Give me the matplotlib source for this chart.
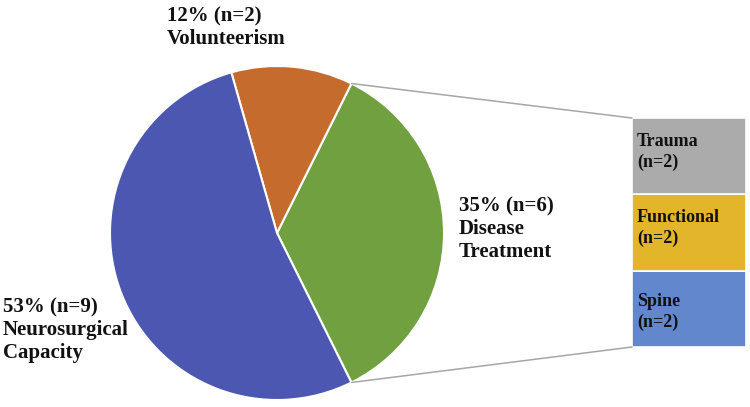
import numpy as np
import matplotlib.pyplot as plt
from matplotlib.patches import ConnectionPatch

# main pie
pie_labels = ['Disease Treatment', 'Volunteerism', 'Neurosurgical Capacity']
pie_counts = [6, 2, 9]
pie_colors = ['#70A03F', '#C56B2D', '#4B57B0']

# breakdown of disease treatment
bar_labels = ['Spine', 'Functional', 'Trauma']
bar_counts = [2, 2, 2]
bar_colors = ['#6287CC', '#E3B52B', '#ABABAB']

W, H = 750, 407
fig = plt.figure(figsize=(W / 100, H / 100), dpi=100)

def fx(px):
    return px / W

def fy(py):
    return 1 - py / H

# pie axes: circle spans x 110..444, y 66..400 in pixels
ax_pie = fig.add_axes([fx(110), fy(400), 334 / W, 334 / H])
start = -pie_counts[0] / sum(pie_counts) * 360 / 2
wedges, _ = ax_pie.pie(pie_counts, colors=pie_colors, startangle=start,
                       counterclock=True, radius=1,
                       wedgeprops=dict(edgecolor='white', linewidth=1.5))
ax_pie.set_xlim(-1, 1)
ax_pie.set_ylim(-1, 1)
ax_pie.set_aspect('equal')
ax_pie.axis('off')

# stacked bar axes
ax_bar = fig.add_axes([fx(632), fy(347), 114 / W, 229 / H])
bottom = 0
for lab, cnt, col in zip(bar_labels, bar_counts, bar_colors):
    ax_bar.bar(0, cnt, bottom=bottom, width=1, color=col,
               edgecolor='white', linewidth=1.2)
    bottom += cnt
ax_bar.set_xlim(-0.5, 0.5)
ax_bar.set_ylim(0, sum(bar_counts))
ax_bar.axis('off')

# connector lines
w = wedges[0]
for ang, yb in [(w.theta2, sum(bar_counts)), (w.theta1, 0)]:
    x = np.cos(np.radians(ang))
    y = np.sin(np.radians(ang))
    con = ConnectionPatch(xyA=(-0.5, yb), coordsA=ax_bar.transData,
                          xyB=(x, y), coordsB=ax_pie.transData,
                          color='#A6A6A6', linewidth=1.1)
    fig.add_artist(con)

font = dict(family='Liberation Serif', fontweight='bold', color='#111111')
big = 15
small = 13

pct = [round(c / sum(pie_counts) * 100) for c in pie_counts]
# y values are the baseline of the last line
fig.text(fx(459), fy(257), f"{pct[0]}% (n={pie_counts[0]})\nDisease\nTreatment",
         fontsize=big, va='baseline', ha='left', linespacing=1.2, **font)
fig.text(fx(167), fy(44), f"{pct[1]}% (n={pie_counts[1]})\nVolunteerism",
         fontsize=big, va='baseline', ha='left', linespacing=1.2, **font)
fig.text(fx(3), fy(358), f"{pct[2]}% (n={pie_counts[2]})\nNeurosurgical\nCapacity",
         fontsize=big, va='baseline', ha='left', linespacing=1.2, **font)

bar_baselines = [327, 243, 167]
for lab, cnt, yb in zip(bar_labels, bar_counts, bar_baselines):
    fig.text(fx(637), fy(yb), f"{lab}\n(n={cnt})", fontsize=small,
             va='baseline', ha='left', linespacing=1.25, **font)

fig.savefig('out.png', dpi=100)
